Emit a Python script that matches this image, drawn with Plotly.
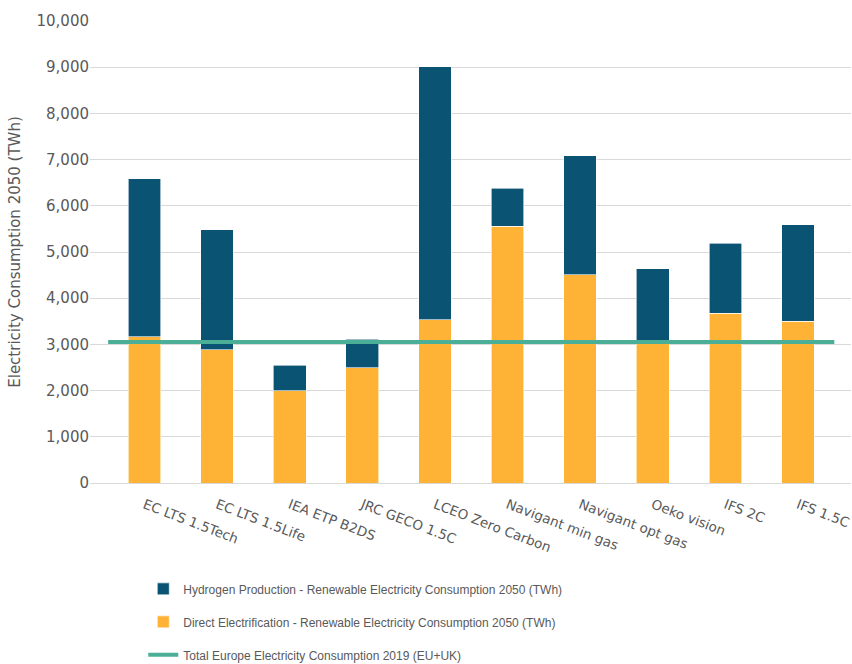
import plotly.graph_objects as go

categories = ["EC LTS 1.5Tech", "EC LTS 1.5Life", "IEA ETP B2DS", "JRC GECO 1.5C",
              "LCEO Zero Carbon", "Navigant min gas", "Navigant opt gas", "Oeko vision",
              "IFS 2C", "IFS 1.5C"]
direct = [3170, 2880, 2000, 2500, 3530, 5560, 4510, 3090, 3670, 3500]
total = [6590, 5480, 2550, 3110, 9010, 6385, 7085, 4640, 5190, 5590]
hydrogen = [t - d for t, d in zip(total, direct)]
europe_2019 = 3050
y_ticks = list(range(0, 10001, 1000))

x = list(range(len(categories)))
font_main = "DejaVu Sans"
txt = "#595959"

fig = go.Figure()
fig.add_trace(go.Bar(
    x=x, y=direct, name="Direct Electrification - Renewable Electricity Consumption 2050 (TWh)",
    marker=dict(color="#FFB336", line=dict(color="#FFFFFF", width=0.6)),
    width=0.45, legendrank=2, legendgroup="b"))
fig.add_trace(go.Bar(
    x=x, y=hydrogen, name="Hydrogen Production - Renewable Electricity Consumption 2050 (TWh)",
    marker=dict(color="#0B5372", line=dict(color="#FFFFFF", width=0.6)),
    width=0.45, legendrank=1, legendgroup="a"))
fig.add_trace(go.Scatter(
    x=[x[0] - 0.5, x[-1] + 0.5], y=[europe_2019, europe_2019], mode="lines",
    name="Total Europe Electricity Consumption 2019 (EU+UK)",
    line=dict(color="#4BAE96", width=4), legendrank=3, legendgroup="c"))

fig.update_layout(
    barmode="stack",
    width=852, height=664,
    margin=dict(l=90, r=1, t=21, b=181, autoexpand=False),
    plot_bgcolor="white", paper_bgcolor="white",
    font=dict(family=font_main, size=15, color=txt),
    showlegend=True,
    legend=dict(
        orientation="v", traceorder="grouped", tracegroupgap=14,
        x=0.07, xanchor="left", y=0.135, yanchor="top", yref="container",
        font=dict(family="Liberation Sans", size=12, color=txt),
        itemwidth=30,
    ),
    xaxis=dict(
        tickmode="array", tickvals=x, ticktext=categories, tickangle=21,
        range=[-0.75, 9.73], showgrid=False, zeroline=False, showline=False,
        tickfont=dict(family=font_main, size=13.5, color=txt),
        ticks="outside", ticklen=8, tickcolor="rgba(0,0,0,0)",
        ticklabeloverflow="allow",
    ),
    yaxis=dict(
        range=[0, 10000], tickvals=y_ticks, tickformat=",",
        showgrid=True, gridcolor="#D9D9D9", gridwidth=1,
        zeroline=True, zerolinecolor="#D9D9D9", zerolinewidth=1,
        title=dict(text="Electricity Consumption 2050 (TWh)", font=dict(size=15, color=txt), standoff=12),
        tickfont=dict(family=font_main, size=15, color=txt),
    ),
)

fig.write_html("out.html")
